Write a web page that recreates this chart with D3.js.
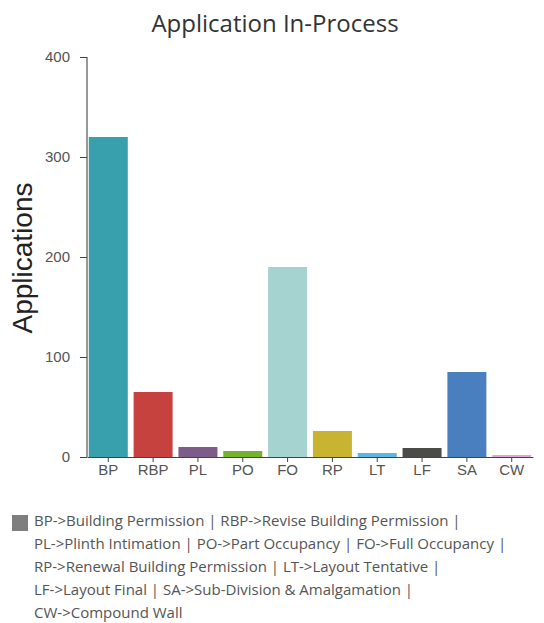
<!DOCTYPE html>
<html>
<head>
<meta charset="utf-8">
<script src="https://cdn.jsdelivr.net/npm/d3@7"></script>
<style>
  html, body { margin: 0; padding: 0; background: #fff; }
  svg { display: block; }
</style>
</head>
<body>
<div id="chart"></div>
<script>
const categories = ["BP", "RBP", "PL", "PO", "FO", "RP", "LT", "LF", "SA", "CW"];
const values = [320, 65, 10, 6, 190, 26, 4, 9, 85, 2];
const colors = ["#389fad", "#c6423f", "#7d5b8b", "#77b22b", "#a5d3d0", "#c8b431", "#5bb6e3", "#4b4c48", "#4a7fbf", "#d8a8d8"];
const yTicks = [0, 100, 200, 300, 400];
const title = "Application In-Process";
const yLabel = "Applications";
const legendLines = [
  "BP->Building Permission | RBP->Revise Building Permission |",
  "PL->Plinth Intimation | PO->Part Occupancy | FO->Full Occupancy |",
  "RP->Renewal Building Permission | LT->Layout Tentative |",
  "LF->Layout Final | SA->Sub-Division & Amalgamation |",
  "CW->Compound Wall"
];

const W = 544, H = 623;
const svg = d3.select("#chart").append("svg").attr("width", W).attr("height", H);

const x = d3.scaleBand().domain(categories).range([87, 533]).paddingInner(0.13).paddingOuter(0.04);
const y = d3.scaleLinear().domain([0, 400]).range([457, 57]);

// bars
svg.append("g").selectAll("rect").data(categories).join("rect")
  .attr("x", d => x(d))
  .attr("y", (d, i) => y(values[i]))
  .attr("width", x.bandwidth())
  .attr("height", (d, i) => y(0) - y(values[i]))
  .attr("fill", (d, i) => colors[i]);

// y axis
const yAxis = svg.append("g").attr("transform", "translate(87,0)")
  .call(d3.axisLeft(y).tickValues(yTicks).tickSize(7).tickPadding(10).tickFormat(d3.format("d")));
yAxis.select(".domain").attr("stroke", "#333").attr("d", "M0,57V457");
yAxis.selectAll(".tick line").attr("stroke", "#444");
yAxis.selectAll("text").attr("fill", "#555").style("font-family", "Liberation Sans, Arial, sans-serif").style("font-size", "15px");

// x axis
const xAxis = svg.append("g").attr("transform", "translate(0,457)")
  .call(d3.axisBottom(x).tickSize(5).tickPadding(2).tickSizeOuter(0));
xAxis.select(".domain").attr("stroke", "#444");
xAxis.selectAll(".tick line").attr("stroke", "#444");
xAxis.selectAll("text").attr("fill", "#555").style("font-family", "Liberation Sans, Arial, sans-serif").style("font-size", "15px");

// title
svg.append("text").attr("x", 275).attr("y", 32).attr("text-anchor", "middle")
  .attr("fill", "#333").style("font-family", "Open Sans, sans-serif").style("font-size", "24px")
  .text(title);

// y label
svg.append("text").attr("transform", "translate(32,258) rotate(-90)").attr("text-anchor", "middle")
  .attr("fill", "#222").style("font-family", "Liberation Sans, Arial, sans-serif").style("font-size", "28px")
  .text(yLabel);

// legend
svg.append("rect").attr("x", 12).attr("y", 515).attr("width", 16).attr("height", 16).attr("fill", "#7f7f7f");
const lg = svg.append("text").attr("fill", "#555").style("font-family", "Open Sans, sans-serif").style("font-size", "15px");
lg.selectAll("tspan").data(legendLines).join("tspan")
  .attr("x", 34).attr("y", (d, i) => 526 + i * 23)
  .text(d => d);
</script>
</body>
</html>
